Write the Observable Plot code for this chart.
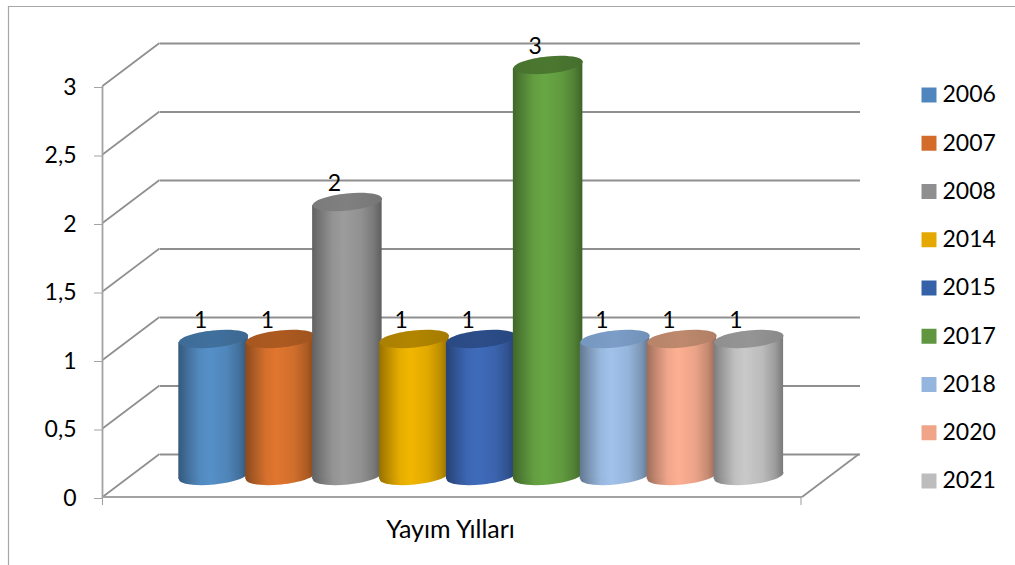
<!DOCTYPE html>
<html>
<head>
<meta charset="utf-8">
<script src="https://cdn.jsdelivr.net/npm/d3@7"></script>
<script src="https://cdn.jsdelivr.net/npm/@observablehq/plot@0.6"></script>
<style>
html,body{margin:0;padding:0;background:#fff;}
svg{display:block;}
</style>
</head>
<body>
<div id="chart"></div>
<script>
const years = ["2006","2007","2008","2014","2015","2017","2018","2020","2021"];
const counts = [1,1,2,1,1,3,1,1,1];
const legendColors = ["#4f86bd","#d36c2b","#8f8f8f","#e5a800","#3561a8","#5f963f","#94b6de","#f0a488","#bdbdbd"];
const sideColors = ["#5590c8","#e0762f","#9c9c9c","#f2b600","#3f6bbb","#68a644","#a0c2ea","#fdaf92","#c9c9c9"];
const capColors = ["#3e6c97","#a6571f","#7b7b7b","#ab8000","#2a4a84","#48732f","#7697bf","#b78469","#8f8f8f"];
const yTicks = [0,0.5,1,1.5,2,2.5,3];
const xTitle = "Yayım Yılları";

const rows = years.map((year,i)=>({year,value:counts[i],i}));
const FONT = "Lato, Carlito, sans-serif";
const DX = 58, DY = -43;
const GRID = "#8f8f8f", AXIS = "#a3a3a3";
const TILT = -0.1;
const RX = 34.8, RATIO = 0.245;
const CAP_DY = -21.5;

const ellipseSymbol = {
  draw(ctx, size) {
    const rx = Math.sqrt(size/Math.PI), ry = rx*RATIO, k = 0.5523;
    const cos = Math.cos(TILT), sin = Math.sin(TILT);
    const p = (a,b)=>[a*cos-b*sin, a*sin+b*cos];
    ctx.moveTo(...p(-rx,0));
    ctx.bezierCurveTo(...p(-rx,-k*ry),...p(-k*rx,-ry),...p(0,-ry));
    ctx.bezierCurveTo(...p(k*rx,-ry),...p(rx,-k*ry),...p(rx,0));
    ctx.bezierCurveTo(...p(rx,k*ry),...p(k*rx,ry),...p(0,ry));
    ctx.bezierCurveTo(...p(-k*rx,ry),...p(-rx,k*ry),...p(-rx,0));
    ctx.closePath();
  }
};

function shade(c,f){const r=d3.rgb(c);return d3.rgb(r.r*f,r.g*f,r.b*f).formatHex();}

function gradients(){
  const defs = d3.create("svg:defs");
  sideColors.forEach((c,i)=>{
    const g = defs.append("linearGradient").attr("id","side"+i).attr("x1",0).attr("x2",1).attr("y1",0).attr("y2",0);
    [[0,0.62],[0.12,0.76],[0.3,0.95],[0.45,1],[0.7,0.93],[0.88,0.78],[1,0.6]].forEach(([o,f])=>g.append("stop").attr("offset",o).attr("stop-color",shade(c,f)));
    const t = defs.append("linearGradient").attr("id","cap"+i).attr("x1",0).attr("x2",1).attr("y1",0).attr("y2",0);
    [[0,1],[0.5,1.04],[1,0.96]].forEach(([o,f])=>t.append("stop").attr("offset",o).attr("stop-color",shade(capColors[i],f)));
  });
  return defs.node();
}

function frameLines(index, scales, values, dim){
  const y = scales.y, L = dim.marginLeft + 0.5, R = dim.width - dim.marginRight, B = y(0);
  const g = d3.create("svg:g").attr("fill","none");
  g.append("path").attr("d",`M8.5,565V6.5H1015`).attr("stroke","#a6a6a6").attr("stroke-width",1.2);
  const d = yTicks.map(t=>`M${L},${y(t)}L${L+DX-1},${y(t)+DY}`).join("");
  g.append("path").attr("d",d).attr("stroke",GRID).attr("stroke-width",1.7);
  g.append("path").attr("d",`M${R},${B}L${R+DX-1},${B+DY}`).attr("stroke",GRID).attr("stroke-width",1.7);
  return g.node();
}
function frontAxes(index, scales, values, dim){
  const y = scales.y, L = dim.marginLeft + 0.5, R = dim.width - dim.marginRight, B = y(0), T = y(3);
  const g = d3.create("svg:g").attr("fill","none").attr("stroke",AXIS);
  g.append("path").attr("d",`M${L},${T}V${B}H${R}`).attr("stroke-width",1.8);
  g.append("path").attr("d",`M${L},${B}v8M${R-1},${B}v8`).attr("stroke-width",1.1);
  return g.node();
}

const skew = {
  render(index, scales, values, dim, ctx, next){
    const g = next(index, scales, values, dim, ctx);
    g.querySelectorAll("rect").forEach(r=>{
      const x=+r.getAttribute("x"),w=+r.getAttribute("width"),y=+r.getAttribute("y"),h=+r.getAttribute("height");
      const cx=x+w/2, cy=y+h/2;
      r.setAttribute("transform",`translate(${cx},${cy}) matrix(1,${TILT},0,1,0,0) translate(${-cx},${-cy})`);
    });
    return g;
  }
};

const cylinders = rows.flatMap(d=>[
  Plot.dot([d],{x:"year",y:()=>0,r:RX,symbol:ellipseSymbol,fill:`url(#side${d.i})`,dy:CAP_DY}),
  Plot.barY([d],{x:"year",y:"value",fill:`url(#side${d.i})`,insetLeft:-1.3,insetRight:-1.3,dy:CAP_DY,...skew}),
  Plot.dot([d],{x:"year",y:"value",r:RX,symbol:ellipseSymbol,fill:`url(#cap${d.i})`,dy:CAP_DY})
]);

const legend = years.flatMap((yr,i)=>[
  Plot.dot([yr],{frameAnchor:"top-left",dx:826.5,dy:8.5+i*48.25,r:8.46,symbol:"square",fill:legendColors[i]}),
  Plot.text([yr],{frameAnchor:"top-left",lineAnchor:"middle",text:d=>d,dx:840,dy:8.5+i*48.25,textAnchor:"start",fontSize:23,fill:"#000",fontFamily:FONT})
]);

const chart = Plot.plot({
  width:1015,
  height:565,
  marginLeft:102,
  marginRight:213,
  marginTop:86,
  marginBottom:68,
  style:{background:"#fff",fontFamily:FONT,overflow:"visible"},
  x:{type:"band",domain:years,range:[179.6,781.8],padding:0,round:false,axis:null},
  y:{domain:[0,3],range:[497,86],axis:null},
  marks:[
    gradients,
    Plot.ruleY(yTicks,{dx:DX,dy:DY,stroke:GRID,strokeWidth:2}),
    frameLines,
    frontAxes,
    Plot.axisY({ticks:yTicks,tickFormat:d=>String(d).replace(".",","),tickSize:8,tickPadding:18,fontSize:23,stroke:AXIS,fill:"#000",dy:1,label:null,fontFamily:FONT}),
    ...cylinders,
    Plot.text(rows,{x:"year",y:"value",text:"value",dx:-13,dy:-40,fontSize:23,fill:"#000",fontFamily:FONT}),
    Plot.text([xTitle],{frameAnchor:"bottom",text:d=>d,dx:-2,dy:40,fontSize:25,fill:"#000",fontFamily:FONT}),
    ...legend
  ]
});
document.getElementById("chart").append(chart);
</script>
</body>
</html>
